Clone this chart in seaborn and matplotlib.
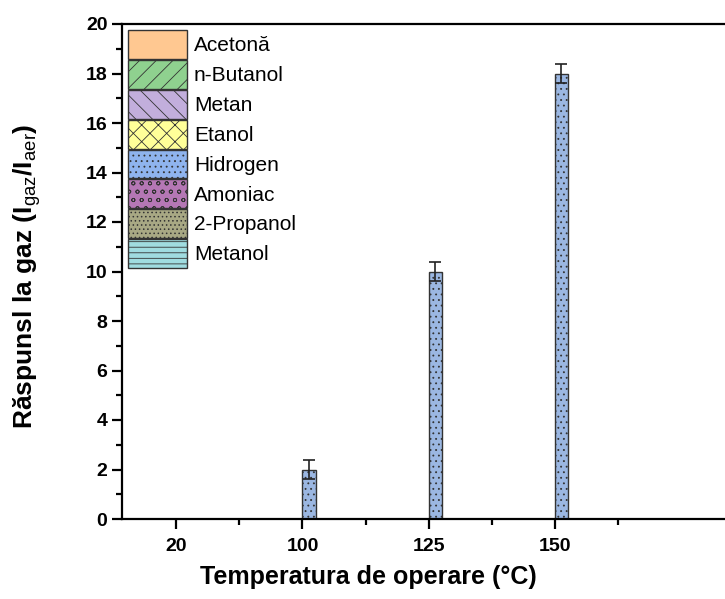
import numpy as np
import pandas as pd
import matplotlib
matplotlib.use('Agg')
import matplotlib.pyplot as plt
from matplotlib.patches import Patch
from matplotlib.ticker import MultipleLocator, FixedLocator
import seaborn as sns

# data
temperatures = ['20', '100', '125', '150']
gases = ['Acetonă', 'n-Butanol', 'Metan', 'Etanol', 'Hidrogen', 'Amoniac', '2-Propanol', 'Metanol']
acetona = [0, 0, 0, 0]
butanol = [0, 0, 0, 0]
metan = [0, 0, 0, 0]
etanol = [0, 0, 0, 0]
hidrogen = [0, 2, 10, 18]
amoniac = [0, 0, 0, 0]
propanol = [0, 0, 0, 0]
metanol = [0, 0, 0, 0]
hidrogen_err = [0, 0.4, 0.4, 0.4]

colors = ['#FFC891', '#8FD18F', '#C2AEDC', '#FFFF99', '#8FB4EE', '#B577B5', '#A8A884', '#A0DCE0']
hatches = ['', '//', '\\\\', 'xx', '...', 'oo', '....', '---']

values = [acetona, butanol, metan, etanol, hidrogen, amoniac, propanol, metanol]
rows = []
for g, vals in zip(gases, values):
    for t, v in zip(temperatures, vals):
        rows.append({'Temperatura': t, 'Gaz': g, 'Raspuns': v})
df = pd.DataFrame(rows)

sns.set_style('ticks')
plt.rcParams['font.family'] = ['Liberation Sans', 'DejaVu Sans']
plt.rcParams['mathtext.fontset'] = 'custom'
plt.rcParams['mathtext.rm'] = 'Liberation Sans'
plt.rcParams['mathtext.bf'] = 'Liberation Sans:bold'
plt.rcParams['hatch.linewidth'] = 0.6
plt.rcParams['text.color'] = 'black'
plt.rcParams['axes.labelcolor'] = 'black'
plt.rcParams['xtick.color'] = 'black'
plt.rcParams['ytick.color'] = 'black'

fig = plt.figure(figsize=(7.25, 5.99), dpi=100)
ax = fig.add_axes([122 / 725, 80 / 599, 660 / 725, 495 / 599])

sns.barplot(data=df, x='Temperatura', y='Raspuns', hue='Gaz', order=temperatures,
            hue_order=gases, palette=colors, width=0.84, errorbar=None,
            edgecolor='#333333', linewidth=1.0, legend=False, ax=ax)

for cont, h in zip(ax.containers, hatches):
    for p in cont.patches:
        p.set_hatch(h)

# error bars on the hydrogen bars
h_cont = ax.containers[gases.index('Hidrogen')]
xs = [p.get_x() + p.get_width() / 2 for p in h_cont.patches]
for x, v, e in zip(xs, hidrogen, hidrogen_err):
    if e > 0:
        ax.errorbar(x, v, yerr=e, fmt='none', ecolor='#222222', elinewidth=1.2,
                    capsize=4, capthick=1.2)

ax.set_ylim(0, 20)
ax.set_xlim(-0.43, 4.8)
ax.yaxis.set_major_locator(MultipleLocator(2))
ax.yaxis.set_minor_locator(MultipleLocator(1))
ax.xaxis.set_minor_locator(FixedLocator([0.5, 1.5, 2.5, 3.5, 4.5]))

for s in ['left', 'bottom', 'top']:
    ax.spines[s].set_linewidth(1.6)
    ax.spines[s].set_color('black')
ax.spines['right'].set_visible(False)

ax.tick_params(axis='both', which='major', length=7, width=1.6, labelsize=14, direction='out')
ax.tick_params(axis='x', which='major', pad=7)
ax.tick_params(axis='both', which='minor', length=4, width=1.6, direction='out')
for lab in ax.get_xticklabels() + ax.get_yticklabels():
    lab.set_fontweight('bold')

ax.set_xlabel('Temperatura de operare (°C)', fontsize=18, fontweight='bold')
ax.xaxis.set_label_coords(0.373, -0.093)
ax.set_ylabel(r'Răspunsl la gaz (I$_{\mathrm{gaz}}$/I$_{\mathrm{aer}}$)', fontsize=19,
              fontweight='bold')
ax.yaxis.set_label_coords(-0.119, 0.49)

handles = [Patch(facecolor=c, edgecolor='#333333', hatch=h, label=g, linewidth=1.0)
           for g, c, h in zip(gases, colors, hatches)]
ax.legend(handles=handles, loc='upper left', bbox_to_anchor=(0.0, 1.0), frameon=False,
          fontsize=15, handlelength=2.8, handleheight=1.75, labelspacing=0.05,
          handletextpad=0.35, borderaxespad=0.2, borderpad=0.1)

fig.savefig('out.png', dpi=100)
